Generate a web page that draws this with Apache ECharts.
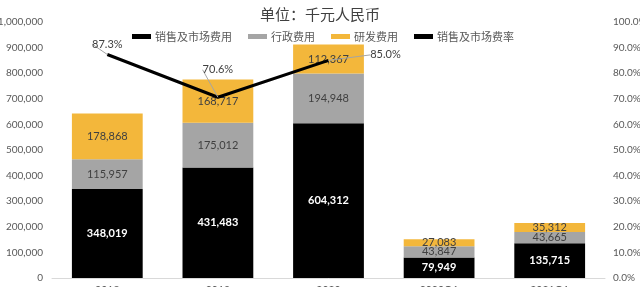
<!DOCTYPE html>
<html>
<head>
<meta charset="utf-8">
<script src="https://cdn.jsdelivr.net/npm/echarts@6/dist/echarts.min.js"></script>
<style>
  html, body { margin: 0; padding: 0; background: #fff; }
  #chart { width: 640px; height: 287px; }
</style>
</head>
<body>
<div id="chart"></div>
<script>
// 费用构成（千元人民币）
const categories = ['2018', '2019', '2020', '2020Q1', '2021Q1'];
const salesExpense = [348019, 431483, 604312, 79949, 135715];   // 销售及市场费用
const adminExpense = [115957, 175012, 194948, 43847, 43665];    // 行政费用
const rdExpense = [178868, 168717, 112367, 27083, 35312];       // 研发费用
const salesRatio = [0.873, 0.706, 0.850, null, null];           // 销售及市场费率

const FONT = 'Lato, "Noto Sans CJK SC", sans-serif';
const chart = echarts.init(document.getElementById('chart'));

const fmtNum = p => p.value.toLocaleString('en-US');

chart.setOption({
  animation: false,
  title: {
    text: '单位：千元人民币',
    left: 'center',
    top: 2,
    textStyle: { fontFamily: '"Noto Sans CJK SC", sans-serif', fontSize: 15, fontWeight: 'normal', color: '#404040' }
  },
  legend: {
    left: 127,
    top: 26,
    itemWidth: 19,
    itemHeight: 5,
    itemGap: 16,
    icon: 'rect',
    textStyle: { fontFamily: '"Noto Sans CJK SC", sans-serif', fontSize: 11, color: '#595959', padding: [0, 0, 0, -1] },
    data: ['销售及市场费用', '行政费用', '研发费用', '销售及市场费率']
  },
  grid: { left: 52, right: 35, top: 22, bottom: 9, containLabel: false, outerBoundsMode: 'none' },
  xAxis: {
    type: 'category',
    data: categories,
    axisLine: { lineStyle: { color: '#d9d9d9', width: 1 } },
    axisTick: { show: false },
    axisLabel: { margin: 7, fontFamily: FONT, fontSize: 10.5, color: '#595959' }
  },
  yAxis: [
    {
      type: 'value', min: 0, max: 1000000, interval: 100000,
      splitLine: { show: false },
      axisLine: { show: false },
      axisLabel: {
        margin: 9, fontFamily: FONT, fontSize: 10, color: '#595959',
        formatter: v => v.toLocaleString('en-US')
      }
    },
    {
      type: 'value', min: 0, max: 1, interval: 0.1,
      splitLine: { show: false },
      axisLine: { show: false },
      axisLabel: {
        margin: 8, fontFamily: FONT, fontSize: 10, color: '#595959',
        formatter: v => (v * 100).toFixed(1) + '%'
      }
    }
  ],
  series: [
    {
      name: '销售及市场费用', type: 'bar', stack: 'cost', barWidth: '64%',
      itemStyle: { color: '#000000' },
      label: { show: true, position: 'inside', formatter: fmtNum, fontFamily: FONT, fontSize: 11, fontWeight: 'bold', color: '#ffffff' },
      data: salesExpense
    },
    {
      name: '行政费用', type: 'bar', stack: 'cost',
      itemStyle: { color: '#a5a5a5' },
      label: { show: true, position: 'inside', formatter: fmtNum, fontFamily: FONT, fontSize: 11, color: '#404040' },
      data: adminExpense
    },
    {
      name: '研发费用', type: 'bar', stack: 'cost',
      itemStyle: { color: '#f3b73b' },
      label: { show: true, position: 'inside', formatter: fmtNum, fontFamily: FONT, fontSize: 11, color: '#404040' },
      data: rdExpense
    },
    {
      name: '销售及市场费率', type: 'line', yAxisIndex: 1,
      showSymbol: true, symbol: 'circle', symbolSize: 0,
      lineStyle: { color: '#000000', width: 3 },
      itemStyle: { color: '#000000' },
      label: {
        show: true, position: 'top', distance: 5,
        fontFamily: FONT, fontSize: 11, color: '#404040',
        formatter: p => p.value == null ? '' : (p.value * 100).toFixed(1) + '%'
      },
      labelLine: { show: true, lineStyle: { color: '#a5a5a5', width: 1 } },
      labelLayout: p => {
        if (p.dataIndex === 1) return { dy: -17 };
        if (p.dataIndex === 2) return { dx: 57, dy: 5 };
        return {};
      },
      data: salesRatio
    }
  ]
});
</script>
</body>
</html>
